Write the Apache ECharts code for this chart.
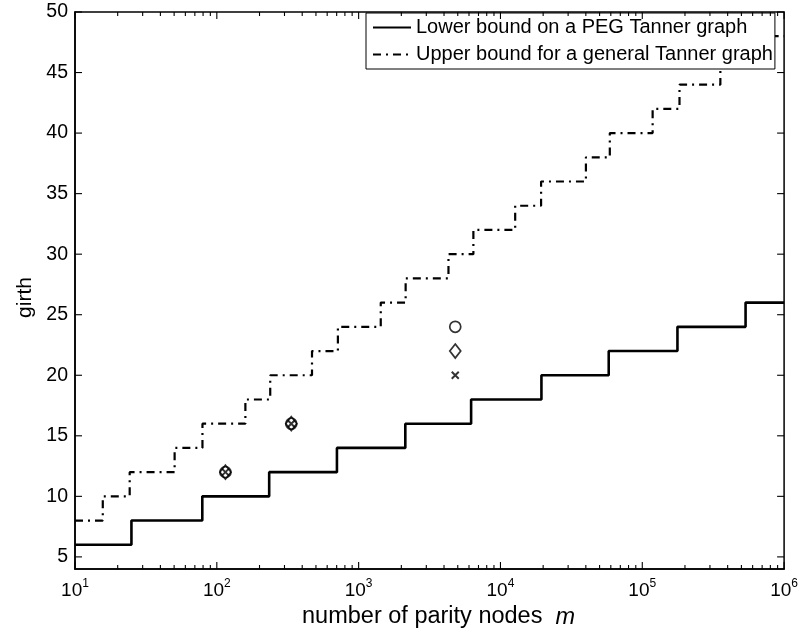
<!DOCTYPE html>
<html>
<head>
<meta charset="utf-8">
<script src="https://cdn.jsdelivr.net/npm/echarts@6/dist/echarts.min.js"></script>
<style>
html,body{margin:0;padding:0;background:#fff;}
#chart{width:801px;height:634px;}
</style>
</head>
<body>
<div id="chart"></div>
<script>
// ---- data ----
const lowerX = [10, 25, 79, 234, 703, 2134, 6210, 19450, 58000, 177000, 535000, 1000000];
const lowerY = [6, 8, 10, 12, 14, 16, 18, 20, 22, 24, 26, 26];
const upperX = [10, 15.7, 24.3, 50.4, 79.2, 159, 238, 469, 714, 1432, 2145, 4300, 6443, 12700, 19340, 40050, 59030, 118300, 183000, 355300, 532000, 1000000];
const upperY = [8, 10, 12, 14, 16, 18, 20, 22, 24, 26, 28, 30, 32, 34, 36, 38, 40, 42, 44, 46, 48, 48];
const pointX = [115, 335, 4800];
const circleY = [12, 16, 24];
const diamondY = [12, 16, 22];
const crossY = [12, 16, 20];
const xTickValues = [10, 100, 1000, 10000, 100000, 1000000];
const xTickExponents = ['1', '2', '3', '4', '5', '6'];
const yTickValues = [5, 10, 15, 20, 25, 30, 35, 40, 45, 50];
const xMinorTicks = [];
[10, 100, 1000, 10000, 100000].forEach(d => { [2,3,4,5,6,7,8,9].forEach(k => xMinorTicks.push(d * k)); });
const seriesNames = ['Lower bound on a PEG Tanner graph', 'Upper bound for a general Tanner graph'];

const FONT = '"Liberation Sans", Arial, Helvetica, sans-serif';
const zip = (xs, ys) => xs.map((x, i) => [x, ys[i]]);

// tick marks drawn inside the box on both opposite sides (MATLAB style)
function xTickRenderer(len) {
  return function (params, api) {
    const cs = params.coordSys;
    const x = api.coord([api.value(0), 10])[0];
    const top = cs.y, bot = cs.y + cs.height;
    return {
      type: 'group',
      children: [
        { type: 'line', shape: { x1: x, y1: bot, x2: x, y2: bot - len }, style: { stroke: '#000', lineWidth: 1.1 } },
        { type: 'line', shape: { x1: x, y1: top, x2: x, y2: top + len }, style: { stroke: '#000', lineWidth: 1.1 } }
      ]
    };
  };
}
function yTickRenderer(len) {
  return function (params, api) {
    const cs = params.coordSys;
    const y = api.coord([10, api.value(1)])[1];
    const left = cs.x, right = cs.x + cs.width;
    return {
      type: 'group',
      children: [
        { type: 'line', shape: { x1: left, y1: y, x2: left + len, y2: y }, style: { stroke: '#000', lineWidth: 1.1 } },
        { type: 'line', shape: { x1: right, y1: y, x2: right - len, y2: y }, style: { stroke: '#000', lineWidth: 1.1 } }
      ]
    };
  };
}

const chart = echarts.init(document.getElementById('chart'), null, { renderer: 'canvas' });
chart.setOption({
  backgroundColor: '#fff',
  animation: false,
  textStyle: { fontFamily: FONT, color: '#000' },
  grid: { left: 75, right: 14, top: 12, bottom: 57, containLabel: false,
          show: true, borderColor: '#000', borderWidth: 1.5, backgroundColor: 'transparent' },
  legend: {
    orient: 'vertical', left: 366, top: 13,
    data: seriesNames,
    backgroundColor: '#fff', borderColor: '#000', borderWidth: 1,
    padding: [4, 2, 4, 6],
    itemWidth: 38, itemHeight: 14, itemGap: 6,
    itemStyle: { opacity: 0 },
    textStyle: { fontFamily: FONT, fontSize: 20, color: '#000', lineHeight: 21 }
  },
  xAxis: {
    type: 'log', logBase: 10, min: 10, max: 1000000,
    position: 'bottom',
    axisLine: { show: true, lineStyle: { color: '#000', width: 1.5 } },
    splitLine: { show: false },
    axisTick: { show: false },
    name: 'number of parity nodes  {i|m}', nameLocation: 'middle', nameGap: 36,
    nameTextStyle: { fontFamily: FONT, fontSize: 23.5, color: '#000', padding: [0, 0, 0, 18],
      rich: { i: { fontStyle: 'italic', fontFamily: FONT, fontSize: 23.5, color: '#000' } } },
    axisLabel: {
      show: true, margin: 9, customValues: xTickValues,
      formatter: (v) => '{b|10}{s|' + xTickExponents[xTickValues.indexOf(Math.round(v))] + '}',
      rich: {
        b: { fontFamily: FONT, fontSize: 19, color: '#000', lineHeight: 22, verticalAlign: 'bottom' },
        s: { fontFamily: FONT, fontSize: 12, color: '#000', lineHeight: 22, verticalAlign: 'top' }
      }
    }
  },
  yAxis: {
    type: 'value', min: 4, max: 50,
    position: 'left',
    axisLine: { show: true, lineStyle: { color: '#000', width: 1.5 } },
    splitLine: { show: false },
    axisTick: { show: false },
    name: 'girth', nameLocation: 'middle', nameGap: 38,
    nameTextStyle: { fontFamily: FONT, fontSize: 21, color: '#000', padding: [0, 0, 0, -14] },
    axisLabel: { show: true, margin: 7, customValues: yTickValues, fontFamily: FONT, fontSize: 19.5, color: '#000' }
  },
  series: [
    {
      name: 'xMajorTicks', type: 'custom', renderItem: xTickRenderer(7), silent: true,
      data: xTickValues.map(v => [v, 10]), encode: { x: 0, y: 1 }, clip: false, z: 5
    },
    {
      name: 'xMinorTicks', type: 'custom', renderItem: xTickRenderer(4), silent: true,
      data: xMinorTicks.map(v => [v, 10]), encode: { x: 0, y: 1 }, clip: false, z: 5
    },
    {
      name: 'yTicks', type: 'custom', renderItem: yTickRenderer(7), silent: true,
      data: yTickValues.map(v => [10, v]), encode: { x: 0, y: 1 }, clip: false, z: 5
    },
    {
      name: seriesNames[0], type: 'line', step: 'end', symbol: 'none', showSymbol: false,
      data: zip(lowerX, lowerY),
      lineStyle: { color: '#000', width: 2.6, type: 'solid' },
      itemStyle: { color: '#000' }
    },
    {
      name: seriesNames[1], type: 'line', step: 'end', symbol: 'none', showSymbol: false,
      data: zip(upperX, upperY),
      lineStyle: { color: '#000', width: 2.2, type: [8, 5, 2, 5] },
      itemStyle: { color: '#000' }
    },
    {
      name: 'circle', type: 'scatter', symbol: 'circle', symbolSize: 11,
      data: zip(pointX, circleY),
      itemStyle: { color: 'rgba(0,0,0,0)', borderColor: '#000', borderWidth: 1.7 }
    },
    {
      name: 'diamond', type: 'scatter', symbol: 'diamond', symbolSize: [11, 14],
      data: zip(pointX, diamondY),
      itemStyle: { color: 'rgba(0,0,0,0)', borderColor: '#000', borderWidth: 1.7 }
    },
    {
      name: 'cross', type: 'scatter', symbol: 'path://M0,0L10,10M10,0L0,10', symbolSize: 7,
      data: zip(pointX, crossY),
      itemStyle: { color: 'rgba(0,0,0,0)', borderColor: '#000', borderWidth: 2 }
    }
  ]
});
</script>
</body>
</html>
